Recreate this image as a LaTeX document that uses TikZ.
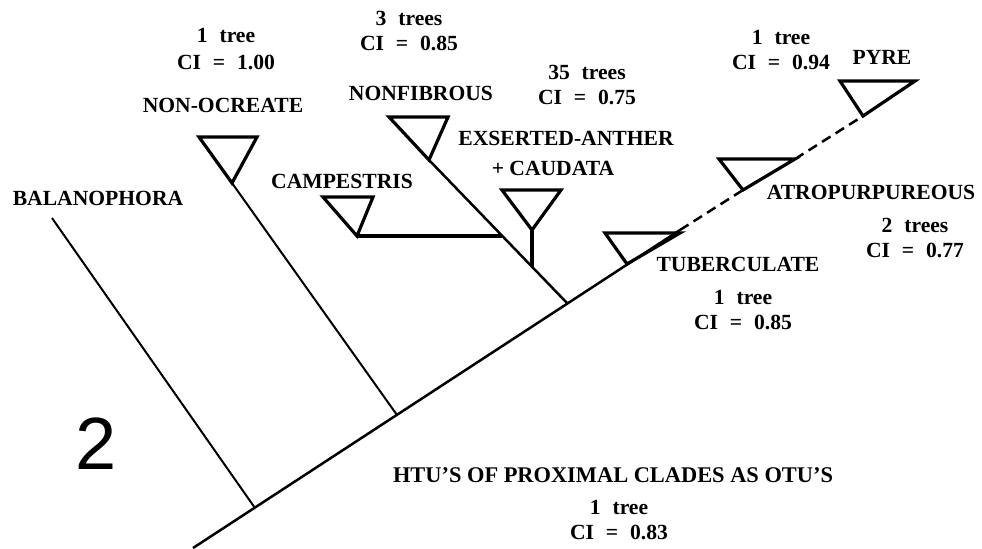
\documentclass[tikz,border=0pt]{standalone}
\usepackage{fontspec}
\setmainfont{Liberation Serif}
\newfontfamily\figfont{Liberation Sans}
\begin{document}
\begin{tikzpicture}[x=0.5pt,y=-0.5pt,
  lbl/.style={font=\fontsize{10.8}{12.5}\selectfont\bfseries,inner sep=0pt,align=center},
  cnt/.style={lbl,execute at begin node={\spaceskip=0.55em\relax}},
  br/.style={line width=1pt},
  stem/.style={line width=1.25pt},
  tri/.style={line width=1.6pt,line join=miter}]
\useasboundingbox (0,0) rectangle (982,548);
% trunk
\coordinate (root) at (193,548);
\coordinate (nBal) at (255,508);
\coordinate (nOcr) at (397,415);
\coordinate (nCla) at (567,303);
\coordinate (tTub) at (627,264);
\coordinate (nTub) at (680,230);
\coordinate (tAtr) at (743,190);
\coordinate (nAtr) at (795,159);
\coordinate (tPyr) at (863,116);
\draw[stem] (root)--(nTub);
\draw[stem,dash pattern=on 5pt off 3pt] (nTub)--(tAtr) (nAtr)--(tPyr);
% side branches
\coordinate (tBal) at (52,218);
\coordinate (tOcr) at (232,183);
\coordinate (tFib) at (429,160);
\coordinate (tCam) at (357,236);
\coordinate (nCam) at (502,236);
\coordinate (tExs) at (532,230);
\coordinate (nExs) at (532,267);
\draw[br] (tBal)--(nBal);
\draw[br] (tOcr)--(nOcr);
\draw[stem] (tFib)--(nCla);
\draw[tri] (tCam)--(nCam);
\draw[tri] (tExs)--(nExs);
% collapsed clades
\foreach \t/\dx/\dy/\w in {tOcr/-33/-46/58,tFib/-40/-43/59,tCam/-34/-39/50,tExs/-30/-40/59,
  tTub/-22/-31/75,tAtr/-24/-31/76,tPyr/-23/-35/75}{
  \draw[tri] (\t)--++(\dx,\dy)--++(\w,0)--cycle;}
% taxon labels
\node[lbl] (Bal) at (98,198) {BALANOPHORA};
\node[lbl] (Ocr) at (223,105) {NON-OCREATE};
\node[lbl] (Fib) at (421,93) {NONFIBROUS};
\node[lbl] (Cam) at (342,181) {CAMPESTRIS};
\node[lbl] (Exs) at (566,138) {EXSERTED-ANTHER};
\node[lbl] (Cau) at (553,168) {+ CAUDATA};
\node[lbl] (Tub) at (738,264) {TUBERCULATE};
\node[lbl] (Atr) at (871,192) {ATROPURPUREOUS};
\node[lbl] (Pyr) at (882,57) {PYRE};
% tree counts
\node[cnt] (sOcr) at (226,49) {1 tree\\[1pt]CI = 1.00};
\node[cnt] (sFib) at (409,31) {3 trees\\CI = 0.85};
\node[cnt] (sExs) at (587,85) {35 trees\\CI = 0.75};
\node[cnt] (sPyr) at (781,50) {1 tree\\CI = 0.94};
\node[cnt] (sAtr) at (915,238) {2 trees\\CI = 0.77};
\node[cnt] (sTub) at (743,310) {1 tree\\CI = 0.85};
\node[lbl,font=\fontsize{11.2}{12.5}\selectfont\bfseries] (htu) at (613,475) {HTU'S OF PROXIMAL CLADES AS OTU'S};
\node[cnt] (sHtu) at (619,520) {1 tree\\CI = 0.83};
\node[font=\figfont\fontsize{37}{40}\selectfont,inner sep=0pt] (fig) at (96,444) {2};
\end{tikzpicture}
\end{document}
